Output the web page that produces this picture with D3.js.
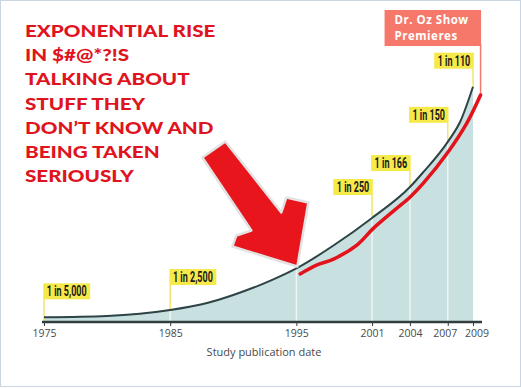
<!DOCTYPE html>
<html>
<head>
<meta charset="utf-8">
<script src="https://cdn.jsdelivr.net/npm/d3@7.9.0/dist/d3.min.js"></script>
<style>
  body { margin: 0; background: #fff; }
  svg { display: block; }
</style>
</head>
<body>
<svg id="chart" width="521" height="389"></svg>
<script>
// Curve as drawn: cases per 10,000 by study publication year
const curveYears = [1975, 1980, 1985, 1988, 1990, 1993, 1995, 1998, 2001, 2004, 2005, 2007, 2008, 2009];
const curveRates = [1.8, 2.3, 4.6, 7.4, 10.4, 16, 20.6, 29.6, 40, 51.9, 57.3, 69.3, 77.2, 90.5];

// Red hand-drawn line
const redYears = [1995.3, 1996.6, 1997.9, 1999.8, 2001.1, 2002.9, 2004, 2005.05, 2007.04, 2008.5, 2009.6];
const redRates = [18.5, 21.9, 24.1, 29.6, 36, 43.5, 48, 53.3, 65.5, 76.4, 87.3];

// Flags
const flagYears = [1975, 1985, 2001, 2004, 2007, 2009];
const flagLabels = ['1 in 5,000', '1 in 2,500', '1 in 250', '1 in 166', '1 in 150', '1 in 110'];
const flagPole = [18, 25, 23, 16, 19, 18];       // pole length above curve
const flagSide = ['left', 'left', 'right', 'right', 'right', 'right'];

const tickYears = [1975, 1985, 1995, 2001, 2004, 2007, 2009];
const tickNudge = { 2007: -3, 2009: 3.5 };
const gridYears = [1985, 1995, 2001, 2004, 2007];

const titleLines = ['EXPONENTIAL RISE', 'IN $#@*?!S', 'TALKING ABOUT', 'STUFF THEY',
                    'DON\u2019T KNOW AND', 'BEING TAKEN', 'SERIOUSLY'];
const ozYear = 2009.6;
const ozLines = ['Dr. Oz Show', 'Premieres'];
const arrowYear = 1995;

const svg = d3.select('#chart');

const x = d3.scaleLinear().domain([1975, 2009]).range([44, 473]);
const y = d3.scaleLinear().domain([0, 100]).range([322, 62]);

const curveData = curveYears.map((yr, i) => ({ yr, v: curveRates[i] }));
const redData = redYears.map((yr, i) => ({ yr, v: redRates[i] }));
const curveAt = d3.scaleLinear().domain(curveYears).range(curveRates);

// frame
svg.append('rect')
    .attr('x', 0.5).attr('y', 0.5)
    .attr('width', 520).attr('height', 386)
    .attr('fill', 'none')
    .attr('stroke', '#c9d5e2');

// area fill
svg.append('path')
    .datum(curveData)
    .attr('fill', '#c9e0e0')
    .attr('d', d3.area()
        .x(d => x(d.yr))
        .y0(y(0))
        .y1(d => y(d.v))
        .curve(d3.curveMonotoneX));

// white grid lines inside the fill
svg.selectAll('.grid')
    .data(gridYears)
    .join('line')
    .attr('x1', d => x(d)).attr('x2', d => x(d))
    .attr('y1', y(0)).attr('y2', d => y(curveAt(d)))
    .attr('stroke', '#eef5f4')
    .attr('stroke-width', 1.5);

// flags
const flags = svg.selectAll('.flag')
    .data(flagYears.map((yr, i) => ({ yr, label: flagLabels[i], pole: flagPole[i], side: flagSide[i] })))
    .join('g')
    .attr('class', 'flag');

flags.append('line')
    .attr('x1', d => x(d.yr)).attr('x2', d => x(d.yr))
    .attr('y1', d => y(curveAt(d.yr)) - d.pole)
    .attr('y2', d => d.yr === 1975 ? y(0) : y(curveAt(d.yr)))
    .attr('stroke', '#f1e66a')
    .attr('stroke-width', 1.5);

flags.each(function(d) {
    const g = d3.select(this);
    const bottom = y(curveAt(d.yr)) - d.pole;
    const h = 16;
    const sx = 0.6;
    const t = g.append('text')
        .text(d.label)
        .attr('font-family', 'Roboto, "DejaVu Sans", sans-serif')
        .attr('font-weight', 'bold')
        .attr('font-size', 15)
        .attr('fill', '#1a1a1a');
    const w = t.node().getComputedTextLength() * sx;
    const bw = w + 7;
    const left = d.side === 'left' ? x(d.yr) - 0.75 : x(d.yr) + 0.75 - bw;
    g.insert('rect', 'text')
        .attr('x', left).attr('y', bottom - h)
        .attr('width', bw).attr('height', h)
        .attr('fill', '#f6e94a');
    t.attr('transform', `translate(${left + 3.5},${bottom - 3}) scale(${sx},1)`);
});

// dark curve
svg.append('path')
    .datum(curveData)
    .attr('fill', 'none')
    .attr('stroke', '#2d4346')
    .attr('stroke-width', 2)
    .attr('d', d3.line()
        .x(d => x(d.yr))
        .y(d => y(d.v))
        .curve(d3.curveMonotoneX));

// axis
svg.append('line')
    .attr('x1', x(1975) - 2).attr('x2', x(2009) + 9)
    .attr('y1', y(0)).attr('y2', y(0))
    .attr('stroke', '#333d3d')
    .attr('stroke-width', 2.5);

const axis = svg.append('g')
    .attr('transform', `translate(0,${y(0)})`)
    .call(d3.axisBottom(x).tickValues(tickYears).tickFormat(d3.format('d')).tickSize(4).tickSizeOuter(0));
axis.select('.domain').remove();
axis.selectAll('.tick line').attr('stroke', '#333d3d').attr('stroke-width', 1);
axis.selectAll('.tick text')
    .attr('y', 8)
    .attr('x', d => tickNudge[d] || 0)
    .attr('fill', '#4a4a4a')
    .attr('font-family', '"Open Sans", sans-serif')
    .attr('font-size', 10.5);

svg.append('text')
    .attr('x', 264).attr('y', 355.5)
    .attr('text-anchor', 'middle')
    .attr('fill', '#4a4a4a')
    .attr('font-family', '"Open Sans", sans-serif')
    .attr('font-size', 11)
    .text('Study publication date');

// Dr. Oz marker
const ozX = x(ozYear);
svg.append('line')
    .attr('x1', ozX).attr('x2', ozX)
    .attr('y1', 44).attr('y2', y(redRates[redRates.length - 1]))
    .attr('stroke', '#f47a6c')
    .attr('stroke-width', 1.5);
svg.append('rect')
    .attr('x', ozX - 96).attr('y', 10)
    .attr('width', 96.5).attr('height', 36)
    .attr('fill', '#f6786a');
svg.selectAll('.oz')
    .data(ozLines)
    .join('text')
    .attr('class', 'oz')
    .attr('x', ozX - 86)
    .attr('y', (d, i) => 24 + i * 16)
    .attr('fill', '#fff')
    .attr('font-family', '"Open Sans", sans-serif')
    .attr('font-weight', 'bold')
    .attr('font-size', 11.5)
    .attr('letter-spacing', 0.5)
    .text(d => d);

// red line
svg.append('path')
    .datum(redData)
    .attr('fill', 'none')
    .attr('stroke', '#e3121b')
    .attr('stroke-width', 3.5)
    .attr('stroke-linecap', 'round')
    .attr('stroke-linejoin', 'round')
    .attr('d', d3.line()
        .x(d => x(d.yr))
        .y(d => y(d.v))
        .curve(d3.curveCatmullRom));

// big arrow, tip on the curve at 1995
const tipX = x(arrowYear) + 1;
const tipY = y(curveAt(arrowYear)) - 2;
const arrowShape = [[-95, -109], [-72, -125], [-16, -54], [-11, -69], [11, -64],
                    [0, 0], [-65, -20], [-61, -31], [-46, -36]];
svg.append('polygon')
    .attr('points', arrowShape.map(p => [tipX + p[0], tipY + p[1]].join(',')).join(' '))
    .attr('fill', '#e8151d')
    .attr('stroke', '#e2e2e2')
    .attr('stroke-width', 2.5)
    .attr('stroke-linejoin', 'round');

// title
svg.append('g')
    .attr('transform', 'translate(25,0) scale(1.18,1)')
    .selectAll('text')
    .data(titleLines)
    .join('text')
    .attr('x', 0)
    .attr('y', (d, i) => 37 + i * 24.2)
    .attr('fill', '#e0141e')
    .attr('font-family', 'Lato, "Open Sans", sans-serif')
    .attr('font-weight', 900)
    .attr('font-size', 17.5)
    .text(d => d);
</script>
</body>
</html>
